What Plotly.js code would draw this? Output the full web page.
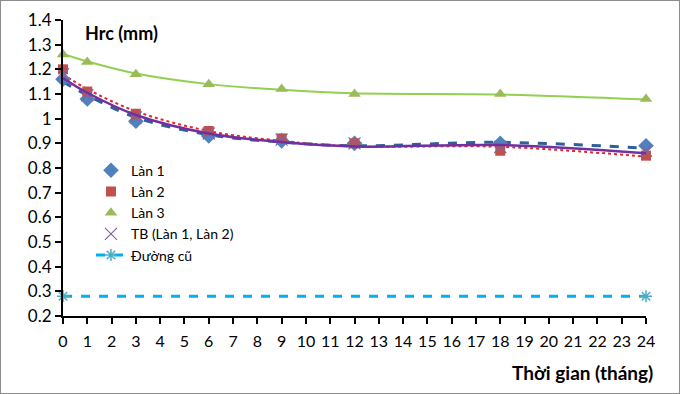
<!DOCTYPE html>
<html><head><meta charset="utf-8">
<script src="https://cdn.plot.ly/plotly-3.0.1.min.js"></script>
<style>body{margin:0}#c{width:680px;height:394px;box-sizing:border-box;border:1px solid #8c8c8c}</style>
</head><body><div id="c"></div>
<script>
const months = [0, 1, 3, 6, 9, 12, 18, 24];
const lan1 = [1.16, 1.08, 0.99, 0.93, 0.91, 0.90, 0.90, 0.89];
const lan2 = [1.20, 1.11, 1.02, 0.95, 0.92, 0.90, 0.87, 0.85];
const lan3 = [1.26, 1.23, 1.18, 1.14, 1.12, 1.10, 1.10, 1.08];
const tb   = [1.18, 1.095, 1.005, 0.94, 0.915, 0.90, 0.885, 0.87];
const trend1 = [1.15, 1.095, 1.005, 0.935, 0.905, 0.89, 0.904, 0.88];
const trend2 = [1.18, 1.12, 1.03, 0.95, 0.91, 0.888, 0.886, 0.846];
const trendTB = [1.165, 1.105, 1.015, 0.94, 0.905, 0.887, 0.893, 0.86];
const trend3 = [1.262, 1.232, 1.183, 1.14, 1.117, 1.103, 1.098, 1.078];
const oldX = [0, 24];
const oldY = [0.28, 0.28];

const F = 'Lato, "Liberation Sans", sans-serif';
const traces = [
  {x: months, y: trend1, mode: 'lines', line: {color: '#2e5f98', width: 3, dash: 'dash', shape: 'spline'}, showlegend: false, hoverinfo: 'skip'},
  {x: months, y: trend2, mode: 'lines', line: {color: '#e3262b', width: 2, dash: 'dot', shape: 'spline'}, showlegend: false, hoverinfo: 'skip'},
  {x: months, y: trend3, mode: 'lines', line: {color: '#92d050', width: 2, shape: 'spline'}, showlegend: false, hoverinfo: 'skip'},
  {x: months, y: lan1, name: 'Làn 1', mode: 'markers', marker: {symbol: 'diamond', color: '#4f81bd', size: 12}},
  {x: months, y: lan2, name: 'Làn 2', mode: 'markers', marker: {symbol: 'square', color: '#c0504d', size: 10}},
  {x: months, y: lan3, name: 'Làn 3', mode: 'markers', marker: {symbol: 'triangle-up', color: '#9bbb59', size: 11}},
  {x: months, y: tb, name: 'TB (Làn 1, Làn 2)', mode: 'markers', marker: {symbol: 'x-thin-open', color: '#8064a2', size: 12, line: {width: 1.2, color: '#8064a2'}}},
  {x: months, y: trendTB, mode: 'lines', line: {color: '#7030a0', width: 2.5, shape: 'spline'}, showlegend: false, hoverinfo: 'skip'},
  {x: oldX, y: oldY, name: 'Đường cũ', mode: 'lines+markers', line: {color: '#00b0f0', width: 3, dash: 'dash'}, marker: {symbol: 'asterisk-open', color: '#4bacc6', size: 10, line: {width: 1.5, color: '#4bacc6'}}}
];
const layout = {
  width: 678, height: 392,
  margin: {l: 62, r: 33, t: 19, b: 77},
  paper_bgcolor: '#fff', plot_bgcolor: '#fff',
  font: {family: F, color: '#000'},
  showlegend: true,
  legend: {x: 0.048, y: 0.545, xanchor: 'left', yanchor: 'top', font: {size: 14, family: F}, bgcolor: 'rgba(0,0,0,0)', tracegroupgap: 0},
  xaxis: {range: [0, 24], dtick: 1, tick0: 0, showgrid: false, zeroline: false, showline: true, linecolor: '#000', linewidth: 2,
          ticks: 'outside', ticklen: 6, tickwidth: 2, tickcolor: '#000', tickfont: {size: 16, family: F}, ticklabelstandoff: 4,
          title: {text: ''}},
  yaxis: {range: [0.2, 1.4], dtick: 0.1, tick0: 0.2, showgrid: false, zeroline: false, showline: true, linecolor: '#000', linewidth: 2,
          ticks: 'outside', ticklen: 6, tickwidth: 2, tickcolor: '#000', tickfont: {size: 17, family: F}},
  annotations: [
    {xref: 'paper', yref: 'paper', x: 0.035, y: 1.0, xanchor: 'left', yanchor: 'top', text: '<b>Hrc (mm)</b>', showarrow: false, font: {size: 18, family: F}},
    {xref: 'paper', yref: 'paper', x: 1.015, y: -0.19, xanchor: 'right', yanchor: 'middle', text: '<b>Thời gian (tháng)</b>', showarrow: false, font: {size: 19, family: F}}
  ]
};
traces.forEach(t => t.cliponaxis = false);
Plotly.newPlot('c', traces, layout, {displayModeBar: false, staticPlot: true});
</script></body></html>
